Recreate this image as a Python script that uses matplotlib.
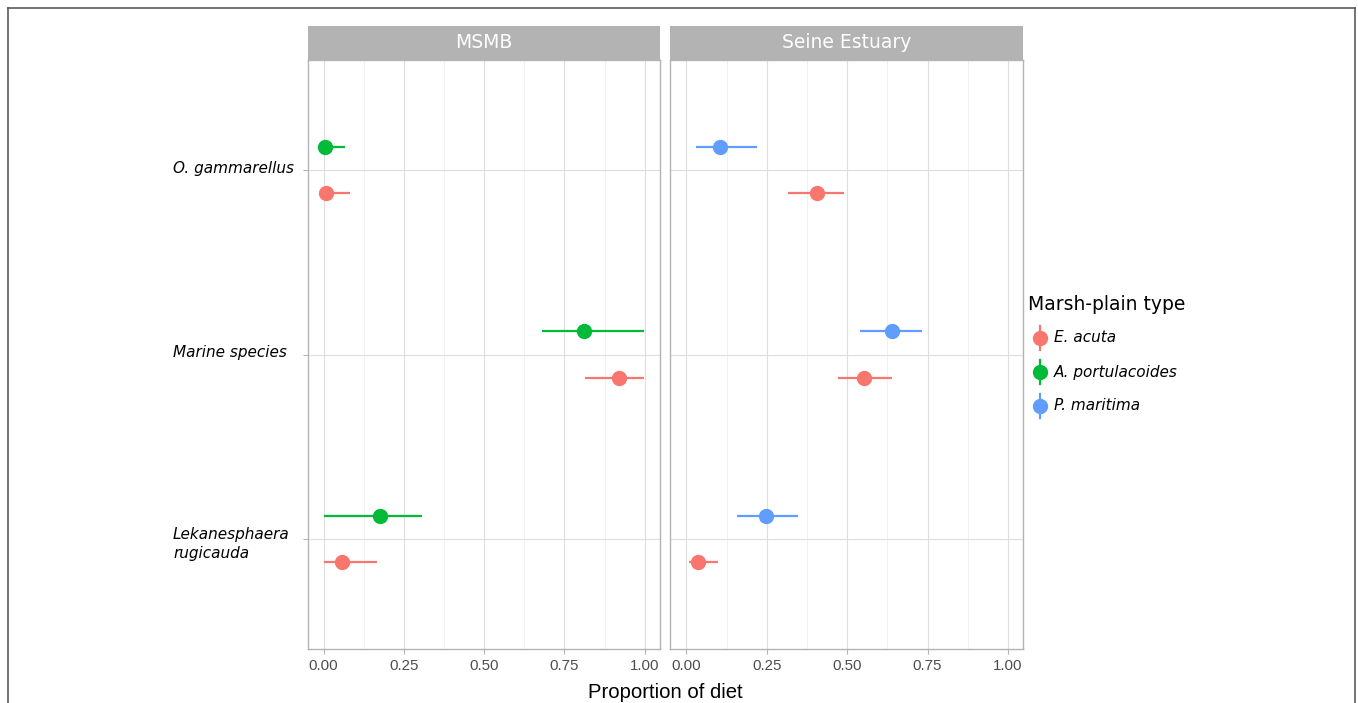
import numpy as np
import matplotlib
matplotlib.use("Agg")
import matplotlib.pyplot as plt
from matplotlib.lines import Line2D
import matplotlib.transforms as mtransforms

# data
categories = ["O. gammarellus", "Marine species", "Lekanesphaera\nrugicauda"]
sites = ["MSMB", "Seine Estuary"]
plain_types = ["E. acuta", "A. portulacoides", "P. maritima"]
type_colors = ["#F8766D", "#00BA38", "#619CFF"]

# MSMB
msmb_eacuta = [0.007, 0.920, 0.057]
msmb_eacuta_lo = [0.000, 0.814, 0.000]
msmb_eacuta_hi = [0.082, 0.996, 0.168]
msmb_aport = [0.005, 0.812, 0.175]
msmb_aport_lo = [0.000, 0.680, 0.000]
msmb_aport_hi = [0.068, 0.996, 0.307]

# Seine Estuary
seine_eacuta = [0.407, 0.551, 0.036]
seine_eacuta_lo = [0.315, 0.473, 0.007]
seine_eacuta_hi = [0.491, 0.638, 0.098]
seine_pmar = [0.105, 0.640, 0.248]
seine_pmar_lo = [0.030, 0.540, 0.157]
seine_pmar_hi = [0.220, 0.732, 0.347]

W, H = 1358, 703
fig = plt.figure(figsize=(W / 100, H / 100), dpi=100)


def fx(px):
    return px / W


def fy(py):
    return 1 - py / H


# outer frame
for xs, ys in [([8, 8], [8, 720]), ([8, 1355], [8, 8]), ([1355, 1355], [8, 720])]:
    fig.add_artist(Line2D([fx(x) for x in xs], [fy(y) for y in ys], color="#4D4D4D", lw=1.1))

panels = [
    (307.5, 659.5, [(msmb_eacuta, msmb_eacuta_lo, msmb_eacuta_hi, 0, -1),
                    (msmb_aport, msmb_aport_lo, msmb_aport_hi, 1, 1)]),
    (670.3, 1022.7, [(seine_eacuta, seine_eacuta_lo, seine_eacuta_hi, 0, -1),
                     (seine_pmar, seine_pmar_lo, seine_pmar_hi, 2, 1)]),
]
top, bottom, strip_top = 60, 649, 26
ypos = np.array([3, 2, 1])
dodge = 0.125

axes = []
for i, (l, r, series) in enumerate(panels):
    ax = fig.add_axes([fx(l), fy(bottom), fx(r - l), (bottom - top) / H])
    axes.append(ax)
    ax.set_xlim(-0.0498, 1.0458)
    ax.set_ylim(0.4, 3.6)
    ax.set_xticks([0, 0.25, 0.5, 0.75, 1.0])
    ax.set_xticks([0.125, 0.375, 0.625, 0.875], minor=True)
    ax.set_xticklabels(["0.00", "0.25", "0.50", "0.75", "1.00"],
                       fontfamily="Liberation Sans", fontsize=10.8, color="#4D4D4D")
    ax.set_yticks(ypos)
    ax.set_yticklabels([])
    ax.grid(True, which="major", color="#DEDEDE", lw=0.8)
    ax.grid(True, which="minor", axis="x", color="#EBEBEB", lw=0.5)
    ax.set_axisbelow(True)
    for s in ax.spines.values():
        s.set_color("#B3B3B3")
        s.set_linewidth(1.0)
    ax.tick_params(axis="both", which="major", length=3.8, width=0.8, color="#B3B3B3", pad=3.5)
    ax.tick_params(axis="x", which="minor", length=0)
    if i == 1:
        ax.tick_params(axis="y", length=0)

    for vals, lo, hi, ci, side in series:
        vals = np.array(vals)
        lo = np.array(lo)
        hi = np.array(hi)
        yy = ypos + side * dodge
        ax.errorbar(vals, yy, xerr=[vals - lo, hi - vals], fmt="o", color=type_colors[ci],
                    ms=10, elinewidth=1.6, capsize=0, zorder=3)

    # facet strip
    sax = fig.add_axes([fx(l), fy(top), fx(r - l), (top - strip_top) / H])
    sax.set_facecolor("#B3B3B3")
    sax.set_xticks([])
    sax.set_yticks([])
    for s in sax.spines.values():
        s.set_visible(False)
    sax.text(0.5, 0.5, sites[i], ha="center", va="center", color="white",
             fontfamily="DejaVu Sans", fontsize=13.5, transform=sax.transAxes)

# y labels, left aligned as in the reference
trans = mtransforms.blended_transform_factory(fig.transFigure, axes[0].transData)
for c, yv in zip(categories, ypos):
    lines = c.split("\n")
    first = 3 if len(lines) == 1 else 0
    for k, line in enumerate(lines):
        axes[0].annotate(line, xy=(fx(173), yv), xycoords=trans,
                         xytext=(0, -(first + 19 * k)), textcoords="offset pixels",
                         ha="left", va="baseline", style="italic",
                         fontfamily="DejaVu Sans", fontsize=11, color="black",
                         annotation_clip=False)

fig.text(fx(665.5), fy(692), "Proportion of diet", ha="center", va="center",
         fontfamily="Liberation Sans", fontsize=14.6, color="black")

# legend
fig.text(fx(1028), fy(305), "Marsh-plain type", ha="left", va="center",
         fontfamily="DejaVu Sans", fontsize=13.5)
for lab, col, yk in zip(plain_types, type_colors, [338, 372, 406]):
    fig.add_artist(Line2D([fx(1040), fx(1040)], [fy(yk - 12), fy(yk + 12)], color=col, lw=1.6))
    fig.add_artist(Line2D([fx(1040)], [fy(yk)], marker="o", ms=10, color=col, lw=0))
    fig.text(fx(1054), fy(yk), lab, ha="left", va="center", style="italic",
             fontfamily="DejaVu Sans", fontsize=11)

fig.savefig("out.png", dpi=100)
